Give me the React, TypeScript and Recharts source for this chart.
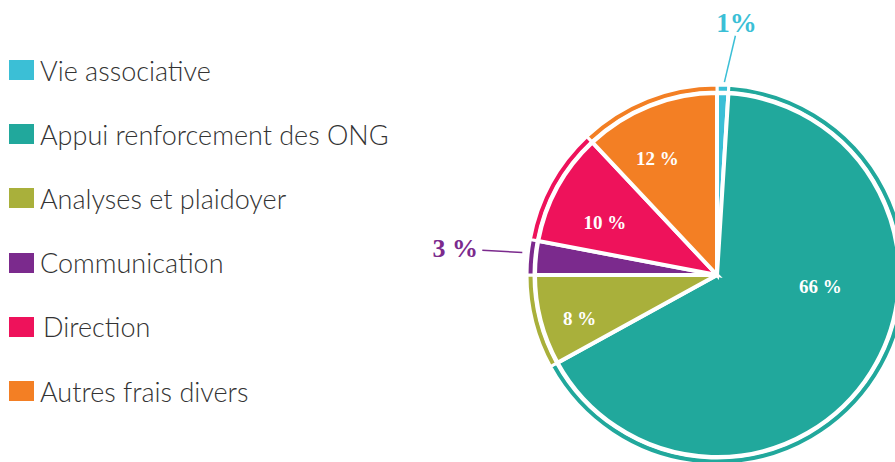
import { PieChart, Pie, Cell } from 'recharts';

const categories = [
  'Vie associative',
  'Appui renforcement des ONG',
  'Analyses et plaidoyer',
  'Communication',
  'Direction',
  'Autres frais divers',
];
const shares = [1, 66, 8, 3, 10, 12];
const shareLabels = ['1%', '66 %', '8 %', '3 %', '10 %', '12 %'];
const colors = ['#3bbfd6', '#21a89c', '#a9b03b', '#7b2a8d', '#ee125b', '#f37f24'];

const data = categories.map((name, i) => ({ name, value: shares[i] }));

const RAD = Math.PI / 180;
const CX = 717;
const CY = 275;

// label placement tweaks: radius + angle shift from the slice middle
const inside: Record<number, { r: number; shift: number }> = {
  1: { r: 104, shift: 25.8 },
  2: { r: 144, shift: 3 },
  4: { r: 124, shift: 3.5 },
  5: { r: 131, shift: 5.5 },
};

const pt = (cx: number, cy: number, r: number, a: number) => ({
  x: cx + r * Math.cos(a * RAD),
  y: cy - r * Math.sin(a * RAD),
});

function renderLabel(props: any) {
  const { cx, cy, midAngle, index } = props;
  const text = shareLabels[index];
  if (inside[index]) {
    const { r, shift } = inside[index];
    const p = pt(cx, cy, r, midAngle + shift);
    return (
      <text
        x={p.x}
        y={p.y}
        fill="#fff"
        textAnchor="middle"
        dominantBaseline="central"
        fontFamily="'Liberation Serif', serif"
        fontWeight="bold"
        fontSize={19}
      >
        {text}
      </text>
    );
  }
  // outside labels with a short leader line
  const color = colors[index];
  if (index === 0) {
    const a = pt(cx, cy, 193, midAngle - 0.4);
    const b = pt(cx, cy, 240, midAngle - 2.6);
    return (
      <g>
        <line x1={a.x} y1={a.y} x2={b.x} y2={b.y} stroke={color} strokeWidth={1.5} />
        <text
          x={b.x + 1}
          y={b.y - 13}
          fill={color}
          textAnchor="middle"
          dominantBaseline="central"
          fontFamily="'Liberation Serif', serif"
          fontWeight="bold"
          fontSize={27}
        >
          {text}
        </text>
      </g>
    );
  }
  const a = pt(cx, cy, 196, midAngle - 1.2);
  const b = pt(cx, cy, 236, midAngle - 0.6);
  return (
    <g>
      <line x1={a.x} y1={a.y} x2={b.x} y2={b.y} stroke={color} strokeWidth={1.5} />
      <text
        x={b.x - 27}
        y={b.y - 2}
        fill={color}
        textAnchor="middle"
        dominantBaseline="central"
        fontFamily="'Liberation Serif', serif"
        fontWeight="bold"
        fontSize={26}
      >
        {text}
      </text>
    </g>
  );
}

function LegendBox() {
  return (
    <div
      style={{
        position: 'absolute',
        left: 9,
        top: 38,
        fontFamily: 'Lato, sans-serif',
        fontWeight: 300,
        color: '#333',
      }}
    >
      {categories.map((c, i) => (
        <div
          key={c}
          style={{ display: 'flex', alignItems: 'center', height: 64.2, whiteSpace: 'nowrap' }}
        >
          <span
            style={{
              display: 'inline-block',
              width: 25,
              height: 20,
              background: colors[i],
              marginRight: c === 'Direction' ? 9 : 6,
            }}
          />
          <span style={{ fontSize: 27 }}>{c}</span>
        </div>
      ))}
    </div>
  );
}

export default function App() {
  return (
    <div style={{ position: 'absolute', left: 0, top: 0, width: 895, height: 462, background: '#fff', overflow: 'hidden' }}>
      <PieChart width={895} height={462} margin={{ top: 0, right: 0, bottom: 0, left: 0 }}>
        <Pie
          data={data}
          dataKey="value"
          cx={CX}
          cy={CY}
          innerRadius={183}
          outerRadius={190}
          startAngle={90}
          endAngle={-270}
          stroke="#fff"
          strokeWidth={3}
          legendType="none"
          isAnimationActive={false}
        >
          {data.map((d, i) => (
            <Cell key={d.name} fill={colors[i]} />
          ))}
        </Pie>
        <Pie
          data={data}
          dataKey="value"
          cx={CX}
          cy={CY}
          innerRadius={0}
          outerRadius={182}
          startAngle={90}
          endAngle={-270}
          stroke="#fff"
          strokeWidth={4}
          label={renderLabel}
          labelLine={false}
          isAnimationActive={false}
        >
          {data.map((d, i) => (
            <Cell key={d.name} fill={colors[i]} />
          ))}
        </Pie>
      </PieChart>
      <LegendBox />
    </div>
  );
}
